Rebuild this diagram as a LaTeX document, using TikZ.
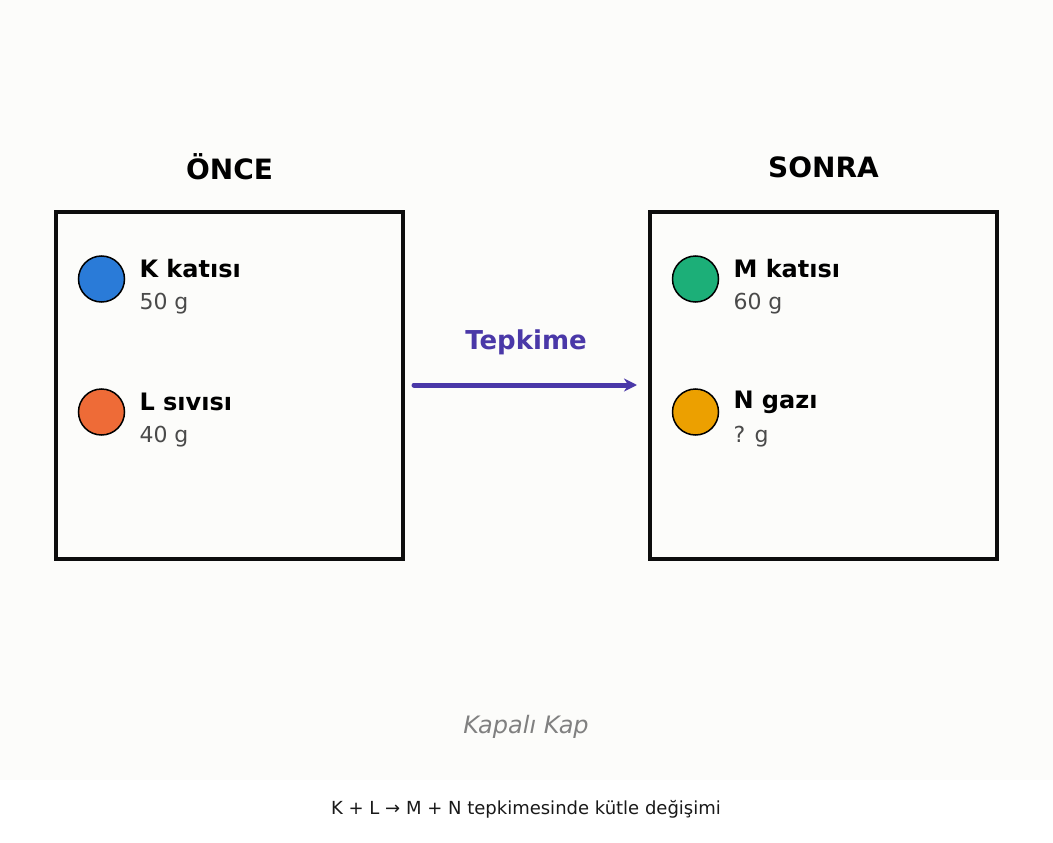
\documentclass[tikz,border=0pt]{standalone}
\usepackage{fontspec}
\setmainfont{DejaVu Sans}
\usetikzlibrary{arrows.meta}
\definecolor{bg}{HTML}{FCFCFA}
\definecolor{arr}{HTML}{4A38A8}
\definecolor{cK}{HTML}{2A7BD8}
\definecolor{cL}{HTML}{EE6B37}
\definecolor{cM}{HTML}{1CAF78}
\definecolor{cN}{HTML}{ECA000}
\definecolor{gtx}{HTML}{4A4A4A}
\begin{document}
\begin{tikzpicture}[x=1pt,y=-1pt,
  box/.style={draw=black!95,line width=4.5pt},
  dot/.style={circle,draw=black,line width=1.5pt,minimum size=46pt,inner sep=0},
  sname/.style={anchor=west,font=\fontsize{24}{28}\selectfont\bfseries},
  amt/.style={anchor=west,text=gtx,font=\fontsize{22}{26}\selectfont},
  head/.style={font=\fontsize{28}{32}\selectfont\bfseries}]
\useasboundingbox (0,0) rectangle (1053,843);
\fill[white] (0,0) rectangle (1053,843);
\fill[bg] (0,0) rectangle (1053,780);
\node[head] (h1) at (229.5,167) {ÖNCE};
\node[head] (h2) at (823.5,167) {SONRA};
\draw[box] (56,212) rectangle (403,559);
\draw[box] (650,212) rectangle (997,559);
\node[dot,fill=cK] (k) at (101.5,279) {};
\node[dot,fill=cL] (l) at (101.5,412) {};
\node[dot,fill=cM] (m) at (695.5,279) {};
\node[dot,fill=cN] (n) at (695.5,412) {};
\node[sname] (kt) at (136,269) {K katısı};
\node[amt] (ka) at (136,304) {50 g};
\node[sname] (lt) at (136,402) {L sıvısı};
\node[amt] (la) at (136,437) {40 g};
\node[sname] (mt) at (730,269) {M katısı};
\node[amt] (ma) at (730,304) {60 g};
\node[sname] (nt) at (730,402) {N gazı};
\node[amt] (na) at (730,437) {? g};
\coordinate (a1) at (414,385); \coordinate (a2) at (637,385);
\draw[arr,line width=5pt,line cap=round,-{Stealth[length=13pt,width=13pt]}] (a1) -- (a2);
\node[text=arr,font=\fontsize{26}{30}\selectfont\bfseries] (tp) at (526,342) {Tepkime};
\node[text=black!50,font=\fontsize{24}{28}\selectfont\itshape] (kk) at (526,727) {Kapalı Kap};
\node[text=black!90,font=\fontsize{18}{22}\selectfont] (cap) at (526,809) {K + L → M + N tepkimesinde kütle değişimi};
\end{tikzpicture}
\end{document}
